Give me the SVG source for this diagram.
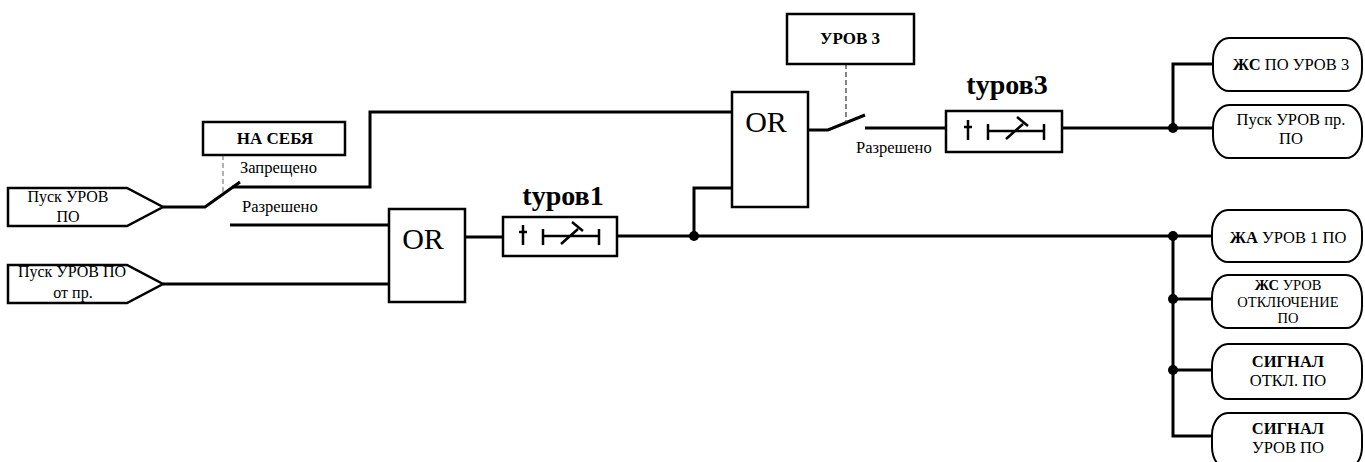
<svg xmlns="http://www.w3.org/2000/svg" width="1365" height="462" viewBox="0 0 1365 462" font-family="'Liberation Serif', 'DejaVu Serif', serif">
<style>
text{font-family:'Liberation Serif','DejaVu Serif',serif;fill:#000}
.t{font-size:16px}
.o{font-size:16.5px}
.s{font-size:14.5px}
.b{font-weight:bold}
.h{font-size:17px;font-weight:bold}
.c{text-anchor:middle}
.box{fill:#fff;stroke:#000;stroke-width:2.5}
.ln{fill:none;stroke:#000;stroke-width:3}
.sym{fill:none;stroke:#000;stroke-width:2.5}
.out{fill:#fff;stroke:#000;stroke-width:2}
</style>
<defs>
<g id="timersym">
<path class="sym" d="M20,8V28M16,15H24M40,12V28M40,19H96M96,12V28M58,27L75,12M69,5L80,14"/>
</g>
</defs>
<g id="connectors">
<polyline class="ln" points="163,207 205,207 240,182"/>
<line x1="223" y1="155" x2="223" y2="195" stroke="#999" stroke-width="1.5" stroke-dasharray="5,3"/>
<polyline class="ln" points="232,187 370,187 370,112 733,112"/>
<line class="ln" x1="230" y1="225" x2="390" y2="225"/>
<line class="ln" x1="163" y1="284" x2="390" y2="284"/>
<line class="ln" x1="465" y1="237" x2="503" y2="237"/>
<line class="ln" x1="617" y1="236" x2="1212" y2="236"/>
<polyline class="ln" points="694,236 694,188 733,188"/>
<polyline class="ln" points="808,130 828,130 865,115"/>
<line x1="846" y1="64" x2="846" y2="122" stroke="#444" stroke-width="1.3" stroke-dasharray="5,3"/>
<line class="ln" x1="865" y1="128" x2="946" y2="128"/>
<line class="ln" x1="1062" y1="128" x2="1213" y2="128"/>
<polyline class="ln" points="1173,128 1173,64 1213,64"/>
<polyline class="ln" points="1173,236 1173,436 1212,436"/>
<line class="ln" x1="1173" y1="299" x2="1212" y2="299"/>
<line class="ln" x1="1173" y1="370" x2="1212" y2="370"/>
<circle cx="694" cy="236" r="5"/>
<circle cx="1173" cy="128" r="5"/>
<circle cx="1173" cy="236" r="5"/>
<circle cx="1173" cy="299" r="5"/>
<circle cx="1173" cy="370" r="5"/>
</g>
<g id="in1">
<path class="box" d="M8,188H127L163,207L127,226H8Z"/>
<text class="t c" x="68" y="202">Пуск УРОВ</text>
<text class="t c" x="68" y="222">ПО</text>
</g>
<g id="in2">
<path class="box" d="M8,265H127L163,284L127,303H8Z"/>
<text class="t c" x="72" y="277">Пуск УРОВ ПО</text>
<text class="t c" x="73" y="298">от пр.</text>
</g>
<g id="nasebya">
<rect class="box" x="203" y="122" width="142" height="33"/>
<text class="h c" x="275" y="144">НА СЕБЯ</text>
</g>
<text class="o" x="240" y="173">Запрещено</text>
<text class="o" x="242" y="212">Разрешено</text>
<g id="or1">
<rect class="box" x="389" y="209" width="76" height="93"/>
<text x="423" y="249" font-size="30" class="c">OR</text>
</g>
<g id="t1">
<rect class="box" x="503" y="217" width="114" height="39"/>
<use href="#timersym" x="503" y="217"/>
<text x="563" y="205" font-size="28" class="b c">tуров1</text>
</g>
<g id="or2">
<rect class="box" x="732" y="92" width="76" height="115"/>
<text x="766" y="132" font-size="30" class="c">OR</text>
</g>
<g id="urov3">
<rect class="box" x="787" y="14" width="127" height="50"/>
<text class="h c" x="850" y="44">УРОВ 3</text>
</g>
<text class="o" x="856" y="153">Разрешено</text>
<g id="t3">
<rect class="box" x="946" y="111" width="116" height="41"/>
<use href="#timersym" x="948" y="112"/>
<text x="1007" y="94" font-size="28" class="b c">tуров3</text>
</g>
<g id="o1">
<rect class="out" x="1213" y="38" width="149" height="53" rx="16" ry="22"/>
<text class="o c" x="1291" y="70"><tspan class="b">ЖС</tspan> ПО УРОВ 3</text>
</g>
<g id="o2">
<rect class="out" x="1213" y="105" width="149" height="53" rx="16" ry="22"/>
<text class="o c" x="1291" y="125">Пуск УРОВ пр.</text>
<text class="o c" x="1291" y="144">ПО</text>
</g>
<g id="o3">
<rect class="out" x="1212" y="210" width="150" height="52" rx="16" ry="22"/>
<text class="o c" x="1288" y="243"><tspan class="b">ЖА</tspan> УРОВ 1 ПО</text>
</g>
<g id="o4">
<rect class="out" x="1212" y="275" width="150" height="53" rx="16" ry="22"/>
<text class="s c" x="1288" y="290"><tspan class="b">ЖС</tspan> УРОВ</text>
<text class="s c" x="1288" y="306.5">ОТКЛЮЧЕНИЕ</text>
<text class="s c" x="1288" y="323">ПО</text>
</g>
<g id="o5">
<rect class="out" x="1212" y="344" width="150" height="55" rx="16" ry="22"/>
<text class="o b c" x="1288" y="367">СИГНАЛ</text>
<text class="o c" x="1288" y="386">ОТКЛ. ПО</text>
</g>
<g id="o6">
<rect class="out" x="1212" y="413" width="150" height="56" rx="16" ry="22"/>
<text class="o b c" x="1288" y="434">СИГНАЛ</text>
<text class="o c" x="1288" y="453">УРОВ ПО</text>
</g>
</svg>
